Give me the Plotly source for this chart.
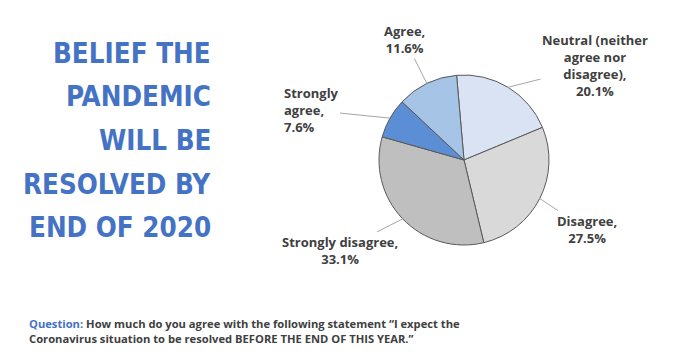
import math
import plotly.graph_objects as go

# ---- data ----
categories = ["Neutral (neither agree nor disagree)", "Disagree", "Strongly disagree",
              "Strongly agree", "Agree"]
display_names = ["Neutral (neither<br>agree nor<br>disagree),", "Disagree,", "Strongly disagree,",
                 "Strongly<br>agree,", "Agree,"]
values = [20.1, 27.5, 33.1, 7.6, 11.6]
title_lines = ["BELIEF THE", "PANDEMIC", "WILL BE", "RESOLVED BY", "END OF 2020"]
question_label = "Question:"
question_text = ("How much do you agree with the following statement \u201cI expect the<br>"
                 "Coronavirus situation to be resolved BEFORE THE END OF THIS YEAR.\u201d")

# ---- style ----
W, H = 676, 361
colors = ["#DAE3F3", "#D9D9D9", "#BFBFBF", "#5B8ED4", "#A6C4E6"]
blue = "#4472C4"
dark = "#404040"
cx_px, cy_px, R = 464, 160, 85
rotation = -5
label_offsets = [(87, -22), (47, 31), (-63, 32), (-79, -8), (-22, -44)]
label_align = ["center", "center", "center", "left", "center"]

fig = go.Figure()
fig.add_trace(go.Pie(
    labels=categories, values=values, sort=False, direction="clockwise",
    rotation=rotation, textinfo="none", hoverinfo="label+percent",
    marker=dict(colors=colors, line=dict(color="#595959", width=1)),
    domain=dict(x=[(cx_px - R) / W, (cx_px + R) / W],
                y=[1 - (cy_px + R) / H, 1 - (cy_px - R) / H]),
    showlegend=False,
))

annotations = []
total = sum(values)
cum = 0.0
for name, v, (ox, oy), al in zip(display_names, values, label_offsets, label_align):
    mid = math.radians(rotation + (cum + v / 2) / total * 360)
    cum += v
    tx = (cx_px + R * math.sin(mid)) / W
    ty = 1 - (cy_px - R * math.cos(mid)) / H
    annotations.append(dict(
        x=tx, y=ty, xref="paper", yref="paper", ax=ox, ay=oy,
        text=f"{name}<br>{v:.1f}%", align=al, showarrow=True, arrowhead=0,
        arrowwidth=1, arrowcolor="#A6A6A6", standoff=0,
        font=dict(family="Open Sans", size=13, color=dark, weight=700),
    ))

title_y0, title_step = 52.5, 43.7
for i, line in enumerate(title_lines):
    annotations.append(dict(
        x=213 / W, y=1 - (title_y0 + i * title_step) / H, xref="paper", yref="paper",
        xanchor="right", yanchor="middle", text=line, showarrow=False,
        font=dict(family="DejaVu Sans Condensed, Roboto", size=27.5, color=blue, weight=700),
    ))

annotations.append(dict(
    x=27 / W, y=1 - 314 / H, xref="paper", yref="paper", xanchor="left", yanchor="top",
    align="left", showarrow=False,
    text=f"<span style='color:{blue}'>{question_label}</span> {question_text}",
    font=dict(family="Open Sans", size=11.2, color=dark, weight=700),
))

fig.update_layout(
    width=W, height=H, margin=dict(l=0, r=0, t=0, b=0),
    paper_bgcolor="white", plot_bgcolor="white",
    annotations=annotations,
)
fig.write_html("out.html", config={"displayModeBar": False},
               post_script="document.body.style.margin='0';")
